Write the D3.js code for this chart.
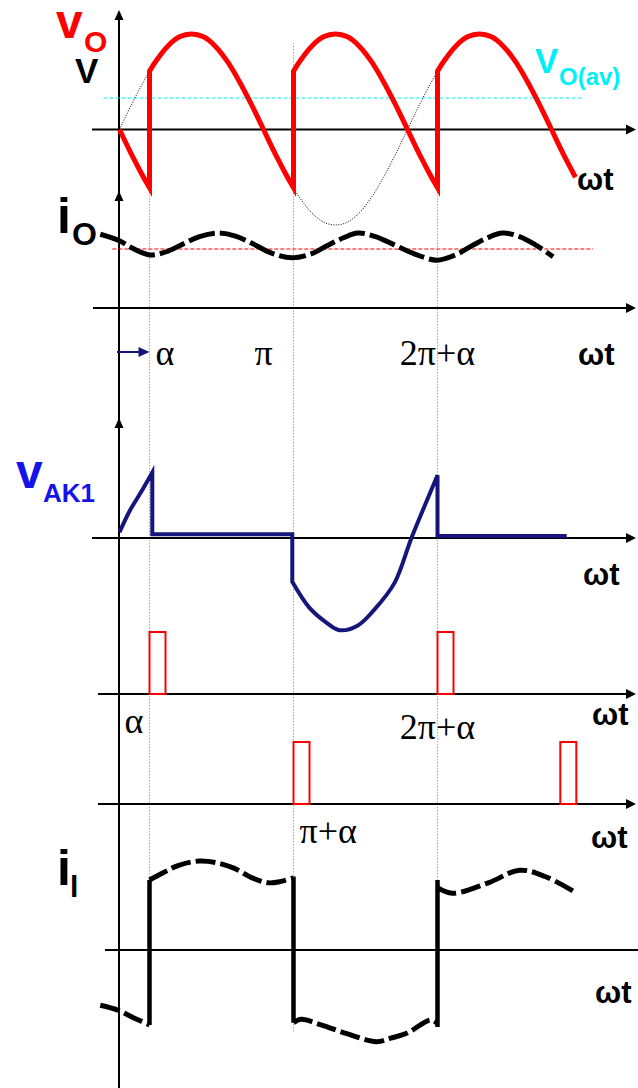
<!DOCTYPE html>
<html>
<head>
<meta charset="utf-8">
<script src="https://cdn.jsdelivr.net/npm/d3@7"></script>
<style>
  html, body { margin: 0; padding: 0; background: #fff; }
  svg { display: block; }
</style>
</head>
<body>
<svg id="chart" width="638" height="1088"></svg>
<script>
// ---------- data (angles in electrical degrees of ωt) ----------
const alphaDeg = 37.5;                                   // firing angle α
const firingMarks = [alphaDeg, 180 + alphaDeg, 360 + alphaDeg];   // α, π+α, 2π+α

// supply voltage v_s, per unit of its peak
const supply = [
  [0, 0], [15, 0.26], [30, 0.50], [37.5, 0.61], [45, 0.71], [60, 0.87], [75, 0.97],
  [90, 1.00], [105, 0.97], [120, 0.87], [135, 0.71], [150, 0.50], [165, 0.26],
  [180, 0], [195, -0.26], [210, -0.50], [217.5, -0.61], [225, -0.71], [240, -0.87],
  [255, -0.97], [270, -1.00], [285, -0.97], [300, -0.87], [315, -0.71], [330, -0.50],
  [345, -0.26], [360, 0], [375, 0.26], [390, 0.50], [397.5, 0.61], [405, 0.71],
  [420, 0.87], [435, 0.97], [450, 1.00], [465, 0.97], [480, 0.87], [495, 0.71],
  [510, 0.50], [525, 0.26], [540, 0], [555, -0.26], [570, -0.50]
];
// conduction intervals: +1 while T1/T2 conduct, -1 while T3/T4 conduct
const conductionEdges = [0, alphaDeg, 180 + alphaDeg, 360 + alphaDeg, 570];
const conductionSign = [-1, 1, -1, 1];
const vOavg = 0.33;                                      // V_O(av) level
const vOavgSpan = [-20, 580];

// load current i_O (per unit of its mean)
const ioCurve = [
  [-24, 1.25], [0, 1.14], [15, 1.02], [37.5, 0.90], [60, 0.96], [80, 1.09], [100, 1.21],
  [123, 1.27], [145, 1.22], [165, 1.10], [190, 0.93], [216, 0.85], [240, 0.92],
  [260, 1.06], [280, 1.19], [298, 1.27], [320, 1.21], [345, 1.06], [370, 0.91],
  [397, 0.81], [420, 0.90], [440, 1.05], [460, 1.19], [479, 1.27], [500, 1.21],
  [520, 1.07], [542, 0.87]
];
const ioMean = 1.0;
const ioMeanSpan = [-9, 592];

// thyristor T1 anode-cathode voltage, per unit
const vakRise = [[0, 0.06], [13, 0.29], [26, 0.47], [41, 0.69]];
const vakOn1 = [[41, 0.04], [216, 0.04]];
const vakLoop = [
  [216, -0.46], [237, -0.73], [257, -0.88], [275, -0.97], [298, -0.92],
  [318, -0.76], [344, -0.47], [364, -0.02], [379, 0.29], [397.5, 0.66]
];
const vakOn2 = [[397.5, 0.02], [559, 0.02]];

// gate pulses (start angle), width in degrees
const gatesT1T2 = [alphaDeg, 360 + alphaDeg];
const gatesT3T4 = [180 + alphaDeg, 551];
const pulseWidth = 20;

// supply (line) current i_l, per unit
const ilSegments = [
  [[-24, -0.79], [-2, -0.86], [18, -0.97], [37.5, -1.07]],
  [[37.5, 1.00], [54, 1.10], [74, 1.21], [99, 1.27], [120, 1.25], [143, 1.17],
   [166, 1.03], [186, 0.96], [202, 0.98], [217.5, 1.03]],
  [[217.5, -1.04], [227, -0.99], [252, -1.07], [283, -1.19], [321, -1.31],
   [339, -1.26], [359, -1.19], [389, -1.00], [397.5, -1.05]],
  [[397.5, 0.89], [416, 0.81], [461, 0.96], [500, 1.14], [532, 1.05], [569, 0.83]]
];
// commutation steps: [angle, from, to]
const ilSteps = [[alphaDeg, -1.07, 1.00], [180 + alphaDeg, 1.05, -1.04], [360 + alphaDeg, -1.10, 1.00]];

// ---------- layout ----------
const svg = d3.select("#chart");
const SANS = "'Liberation Sans', Arial, sans-serif";
const SERIF = "'Liberation Serif', 'Times New Roman', serif";
const RED = "#ff0000", CYAN = "#00f0f8", NAVY = "#15157c", BLUE = "#1414e8";

const x = d3.scaleLinear().domain([0, 180]).range([119.5, 263.5]);
const yV = d3.scaleLinear().domain([-1, 1]).range([129.5 + 95.5, 129.5 - 95.5]);
const yIo = d3.scaleLinear().domain([0, 1]).range([308, 249]);
const yVak = d3.scaleLinear().domain([-1, 1]).range([538 + 95, 538 - 95]);
const yG1 = d3.scaleLinear().domain([0, 1]).range([694, 632]);
const yG2 = d3.scaleLinear().domain([0, 1]).range([804, 742]);
const yIl = d3.scaleLinear().domain([-1, 1]).range([950 + 70, 950 - 70]);

const smooth = d3.curveCatmullRom.alpha(0.5);
function lineFor(yScale, curve) {
  return d3.line().x(d => x(d[0])).y(d => yScale(d[1])).curve(curve || d3.curveLinear);
}
// join pieces into one continuous path
function joinPieces(pieces) {
  return pieces.map((p, i) => i === 0 ? p : p.replace(/^M/, "L")).join("");
}

// ---------- timing guides (dotted cyan) ----------
const guideTop = [72, 43, 72], guideBottom = [1025, 1033, 1025];
svg.append("g").selectAll("line").data(firingMarks).join("line")
  .attr("x1", d => x(d)).attr("x2", d => x(d))
  .attr("y1", (d, i) => guideTop[i]).attr("y2", (d, i) => guideBottom[i])
  .attr("stroke", CYAN).attr("stroke-width", 1).attr("stroke-dasharray", "1.5,1.5");

// ---------- axes ----------
const axisG = svg.append("g");
const axisX0 = 119;
axisG.append("line").attr("x1", axisX0).attr("x2", axisX0).attr("y1", 12).attr("y2", 1088)
  .attr("stroke", "#000").attr("stroke-width", 2);
[10, 191, 418].forEach(tip => {
  axisG.append("path").attr("d", `M${axisX0},${tip} L${axisX0 - 4.5},${tip + 10} L${axisX0 + 4.5},${tip + 10} Z`)
    .attr("fill", "#000");
});
const hAxes = [
  { y: yV(0), x0: 92, arrow: true },
  { y: yIo(0), x0: 93, arrow: true },
  { y: yVak(0), x0: 92, arrow: true },
  { y: yG1(0), x0: 98, arrow: true },
  { y: yG2(0), x0: 98, arrow: true },
  { y: yIl(0), x0: 105, arrow: false }
];
hAxes.forEach(a => {
  const xEnd = a.arrow ? 628 : 638;
  axisG.append("line").attr("x1", a.x0).attr("x2", xEnd).attr("y1", a.y).attr("y2", a.y)
    .attr("stroke", "#000").attr("stroke-width", 1.8);
  if (a.arrow) {
    axisG.append("path").attr("d", `M636,${a.y} L626,${a.y - 5} L626,${a.y + 5} Z`).attr("fill", "#000");
  }
});

// ---------- output voltage panel ----------
svg.append("line")
  .attr("x1", x(vOavgSpan[0])).attr("x2", x(vOavgSpan[1]))
  .attr("y1", yV(vOavg)).attr("y2", yV(vOavg))
  .attr("stroke", CYAN).attr("stroke-width", 1.2).attr("stroke-dasharray", "4,2");

svg.append("path").attr("d", lineFor(yV, smooth)(supply))
  .attr("fill", "none").attr("stroke", "#000").attr("stroke-width", 1).attr("stroke-dasharray", "1,1.5");

const vOpieces = conductionSign.map((s, i) => {
  const seg = supply.filter(d => d[0] >= conductionEdges[i] && d[0] <= conductionEdges[i + 1])
    .map(d => [d[0], s * d[1]]);
  return lineFor(yV, smooth)(seg);
});
svg.append("path").attr("d", joinPieces(vOpieces))
  .attr("fill", "none").attr("stroke", RED).attr("stroke-width", 5).attr("stroke-linejoin", "miter");

// ---------- load current panel ----------
svg.append("line")
  .attr("x1", x(ioMeanSpan[0])).attr("x2", x(ioMeanSpan[1]))
  .attr("y1", yIo(ioMean)).attr("y2", yIo(ioMean))
  .attr("stroke", RED).attr("stroke-width", 1.1).attr("stroke-dasharray", "4,2");
svg.append("path").attr("d", lineFor(yIo, smooth)(ioCurve))
  .attr("fill", "none").attr("stroke", "#000").attr("stroke-width", 5).attr("stroke-dasharray", "27,5");

// α marker arrow
svg.append("line").attr("x1", 117).attr("x2", x(alphaDeg) - 9).attr("y1", 352).attr("y2", 352)
  .attr("stroke", NAVY).attr("stroke-width", 2);
svg.append("path").attr("d", `M${x(alphaDeg)},352 L${x(alphaDeg) - 11},347 L${x(alphaDeg) - 11},357 Z`)
  .attr("fill", NAVY);

// ---------- V_AK1 panel ----------
const vakPath = joinPieces([
  lineFor(yVak, smooth)(vakRise),
  lineFor(yVak)(vakOn1),
  lineFor(yVak, smooth)(vakLoop),
  lineFor(yVak)(vakOn2)
]);
svg.append("path").attr("d", vakPath)
  .attr("fill", "none").attr("stroke", NAVY).attr("stroke-width", 4).attr("stroke-linejoin", "miter");

// ---------- gate pulses ----------
function pulses(starts, yS) {
  svg.append("g").selectAll("rect").data(starts).join("rect")
    .attr("x", d => x(d)).attr("width", d => x(d + pulseWidth) - x(d))
    .attr("y", yS(1)).attr("height", yS(0) - yS(1))
    .attr("fill", "none").attr("stroke", RED).attr("stroke-width", 2);
}
pulses(gatesT1T2, yG1);
pulses(gatesT3T4, yG2);

// ---------- line current panel ----------
ilSegments.forEach(seg => {
  svg.append("path").attr("d", lineFor(yIl, smooth)(seg))
    .attr("fill", "none").attr("stroke", "#000").attr("stroke-width", 5).attr("stroke-dasharray", "20,5");
});
svg.append("g").selectAll("line").data(ilSteps).join("line")
  .attr("x1", d => x(d[0])).attr("x2", d => x(d[0]))
  .attr("y1", d => yIl(d[1])).attr("y2", d => yIl(d[2]))
  .attr("stroke", "#000").attr("stroke-width", 4.5);

// ---------- text ----------
function label(t, xp, yp, size, o = {}) {
  svg.append("text").attr("x", xp).attr("y", yp)
    .attr("font-family", o.serif ? SERIF : SANS)
    .attr("font-size", size).attr("font-weight", o.bold ? "bold" : "normal")
    .attr("fill", o.color || "#000").attr("text-anchor", o.anchor || "start")
    .text(t);
}
// quantity names
label("v", 56, 38, 48, { bold: true, color: RED });
label("O", 84, 52, 30, { bold: true, color: RED });
label("V", 75, 83, 35, { bold: true });
label("V", 535, 73, 35, { bold: true, color: CYAN });
label("O(av)", 559, 85, 24, { bold: true, color: CYAN });
label("i", 57, 233, 50, { bold: true });
label("O", 72, 245, 32, { bold: true });
label("v", 16, 488, 48, { bold: true, color: BLUE });
label("AK1", 43, 502, 26, { bold: true, color: BLUE });
label("i", 57, 885, 50, { bold: true });
label("l", 70, 897, 30, { bold: true });

// ωt axis titles
const wtLabels = [[577, 190], [578, 365], [583, 585], [592, 725], [591, 848], [595, 1003]];
wtLabels.forEach(p => label("ωt", p[0], p[1], 31, { bold: true }));

// angle marks
label("α", x(alphaDeg) + 6, 365, 36, { serif: true });
label("π", x(180), 365, 36, { serif: true, anchor: "middle" });
label("2π+α", x(360 + alphaDeg), 365, 36, { serif: true, anchor: "middle" });
label("α", x(alphaDeg) - 25, 733, 36, { serif: true });
label("2π+α", x(360 + alphaDeg), 739, 36, { serif: true, anchor: "middle" });
label("π+α", x(180 + alphaDeg) + 6, 843, 36, { serif: true });
</script>
</body>
</html>
